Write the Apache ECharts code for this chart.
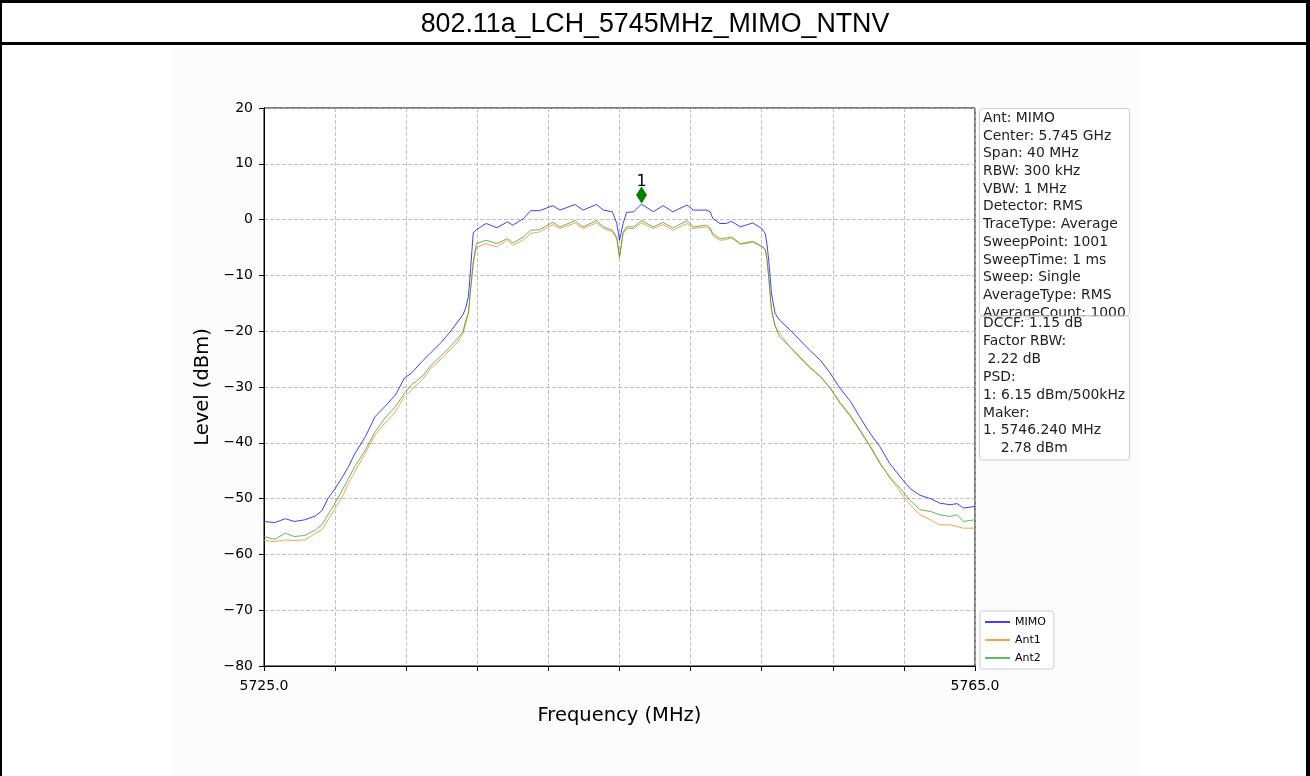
<!DOCTYPE html>
<html>
<head>
<meta charset="utf-8">
<title>802.11a_LCH_5745MHz_MIMO_NTNV</title>
<script src="https://cdn.jsdelivr.net/npm/echarts@6/dist/echarts.min.js"></script>
<style>
  html, body { margin: 0; padding: 0; background: #fff; }
  #chart { width: 1310px; height: 776px; }
</style>
</head>
<body>
<div id="chart"></div>
<script>
// spectrum trace
const freqMHz = [
  5725.0, 5725.6, 5726.2, 5726.7, 5727.3, 5727.9, 5728.25, 5728.6, 5729.0, 5729.4,
  5729.75, 5730.1, 5730.7, 5731.25, 5731.8, 5732.4, 5732.9, 5733.3, 5733.9, 5734.4,
  5735.0, 5735.55, 5735.9, 5736.2, 5736.35, 5736.5, 5736.62, 5736.77, 5736.95, 5737.5,
  5738.1, 5738.7, 5739.0, 5739.6, 5740.0, 5740.5, 5741.25, 5741.65, 5742.5, 5742.95,
  5743.7, 5744.1, 5744.6, 5744.85, 5745.0, 5745.2, 5745.4, 5745.8, 5746.24, 5746.9,
  5747.45, 5748.0, 5748.8, 5749.15, 5749.9, 5750.1, 5750.25, 5750.65, 5751.0, 5751.3,
  5751.8, 5752.5, 5753.0, 5753.2, 5753.3, 5753.4, 5753.55, 5753.75, 5754.0, 5754.6,
  5755.15, 5755.7, 5756.3, 5756.85, 5757.4, 5758.0, 5758.5, 5759.1, 5759.65, 5760.2,
  5760.8, 5761.35, 5761.9, 5762.5, 5763.0, 5763.6, 5764.0, 5764.35, 5765.0
]
const levelMimo = [
  -54.1, -54.3, -53.6, -54.1, -53.8, -53.1, -52.2, -50.0, -48.2, -46.2,
  -44.3, -42.0, -38.9, -35.3, -33.5, -31.4, -28.4, -27.5, -25.4, -23.8,
  -21.9, -19.8, -18.3, -17.0, -15.8, -13.8, -9.0, -2.4, -1.8, -0.7,
  -1.45, -0.4, -1.0, 0.2, 1.6, 1.6, 2.5, 1.7, 2.7, 1.7,
  2.7, 1.7, 1.4, -0.7, -3.7, -0.7, 1.3, 1.4, 2.78, 1.4,
  2.5, 1.4, 2.6, 1.7, 1.7, 1.4, 0.2, -0.7, -0.7, -0.3,
  -1.3, -0.6, -1.6, -2.5, -4.5, -7.5, -13.2, -16.8, -18.0, -19.8,
  -21.6, -23.4, -25.2, -27.5, -30.2, -32.6, -35.3, -38.3, -40.7, -43.7,
  -46.1, -48.2, -49.4, -50.0, -50.8, -51.1, -50.9, -51.7, -51.4
]
const levelAnt1 = [
  -57.5, -57.7, -57.4, -57.5, -57.4, -56.2, -55.6, -53.8, -51.7, -49.7,
  -47.3, -45.2, -41.9, -38.6, -36.5, -34.4, -31.7, -30.5, -28.7, -26.6,
  -24.9, -23.1, -21.9, -20.4, -18.6, -16.8, -12.6, -8.0, -5.0, -4.3,
  -4.9, -3.7, -4.6, -3.6, -2.5, -2.2, -0.9, -1.6, -0.6, -1.6,
  -0.6, -1.6, -2.2, -3.5, -6.9, -2.6, -1.6, -1.6, -0.6, -1.6,
  -0.9, -1.9, -0.7, -1.6, -1.3, -1.8, -2.9, -3.7, -3.6, -3.3,
  -4.4, -4.1, -4.9, -5.4, -7.2, -10.5, -16.2, -19.2, -20.3, -22.9,
  -24.8, -26.6, -28.1, -30.2, -32.7, -35.1, -37.5, -40.5, -43.5, -46.3,
  -48.8, -51.1, -52.9, -53.8, -54.7, -54.7, -55.0, -55.3, -55.3
]
const levelAnt2 = [
  -56.8, -57.3, -56.2, -56.8, -56.6, -55.6, -54.7, -52.9, -50.8, -48.5,
  -46.4, -44.3, -41.3, -38.0, -35.6, -33.5, -31.1, -29.6, -28.1, -26.1,
  -24.3, -22.5, -21.3, -20.0, -18.0, -16.8, -12.6, -7.6, -4.3, -3.7,
  -4.3, -3.4, -4.2, -3.1, -1.9, -1.8, -0.5, -1.3, -0.2, -1.3,
  -0.2, -1.3, -1.9, -3.2, -6.6, -2.3, -1.3, -1.3, -0.2, -1.3,
  -0.5, -1.5, -0.2, -1.3, -1.0, -1.5, -2.5, -3.4, -3.3, -3.1,
  -4.3, -3.9, -4.7, -5.3, -7.2, -10.5, -16.2, -18.9, -21.0, -22.8,
  -24.6, -26.4, -28.1, -30.2, -32.9, -35.3, -37.7, -40.7, -43.7, -46.1,
  -48.2, -50.3, -52.0, -52.3, -52.9, -53.2, -52.9, -54.1, -53.8
]
const seriesNames = ['MIMO', 'Ant1', 'Ant2']
const seriesColors = ['#0000ff', '#ff7f0e', '#2ca02c']
const markerFreq = 5746.24
const markerLevel = 2.78
const startFreq = 5725
const stopFreq = 5765
const yTicks = [-80, -70, -60, -50, -40, -30, -20, -10, 0, 10, 20]

const infoLines = [
  'Ant: MIMO', 'Center: 5.745 GHz', 'Span: 40 MHz', 'RBW: 300 kHz', 'VBW: 1 MHz',
  'Detector: RMS', 'TraceType: Average', 'SweepPoint: 1001', 'SweepTime: 1 ms',
  'Sweep: Single', 'AverageType: RMS', 'AverageCount: 1000'
]
const resultLines = [
  'DCCF: 1.15 dB', 'Factor RBW:', ' 2.22 dB', 'PSD:', '1: 6.15 dBm/500kHz',
  'Maker:', '1. 5746.240 MHz', '    2.78 dBm'
]

const FONT = '"DejaVu Sans", sans-serif'
const minus = v => (v < 0 ? '\u2212' + Math.abs(v) : String(v))

// x axis runs as offset from start so ticks fall on 5725, 5729, ...
const toXY = levels => freqMHz.map((f, i) => [f - startFreq, levels[i]])
const traces = [levelMimo, levelAnt1, levelAnt2]

const chart = echarts.init(document.getElementById('chart'))

chart.setOption({
  animation: false,
  backgroundColor: '#fff',
  title: {
    text: '802.11a_LCH_5745MHz_MIMO_NTNV',
    left: 'center',
    top: 6,
    textStyle: { fontFamily: '"Liberation Sans", Arial, sans-serif', fontSize: 26.8, fontWeight: 'normal', color: '#000' },
  },
  grid: {
    left: 264,
    top: 108,
    width: 711,
    height: 558,
    show: true,
    backgroundColor: '#fff',
    borderColor: '#000',
    borderWidth: 1,
  },
  legend: {
    data: seriesNames,
    orient: 'vertical',
    left: 980,
    top: 611,
    padding: [5, 8, 5, 5],
    icon: 'rect',
    itemWidth: 25,
    itemHeight: 1.5,
    itemGap: 6,
    backgroundColor: '#fff',
    borderColor: '#cccccc',
    borderWidth: 1,
    borderRadius: 3,
    textStyle: { fontFamily: FONT, fontSize: 11, color: '#000', lineHeight: 12 },
  },
  xAxis: {
    type: 'value',
    min: 0,
    max: stopFreq - startFreq,
    interval: 4,
    name: 'Frequency (MHz)',
    nameLocation: 'middle',
    nameGap: 40,
    nameTextStyle: { fontFamily: FONT, fontSize: 19.5, color: '#000' },
    axisLine: { show: true, onZero: false, lineStyle: { color: '#000', width: 1 } },
    axisTick: { show: true, length: 5, lineStyle: { color: '#000' } },
    axisLabel: {
      fontFamily: FONT,
      fontSize: 14,
      color: '#000',
      margin: 13,
      formatter: v => (v === 0 || v === stopFreq - startFreq ? (startFreq + v).toFixed(1) : ''),
    },
    splitLine: { show: true, lineStyle: { color: '#b0b0b0', type: [4, 2], width: 0.8 } },
  },
  yAxis: {
    type: 'value',
    min: yTicks[0],
    max: yTicks[yTicks.length - 1],
    interval: 10,
    name: 'Level (dBm)',
    nameLocation: 'middle',
    nameGap: 50,
    nameTextStyle: { fontFamily: FONT, fontSize: 19.5, color: '#000' },
    axisLine: { show: true, lineStyle: { color: '#000', width: 1 } },
    axisTick: { show: true, length: 5, lineStyle: { color: '#000' } },
    axisLabel: { fontFamily: FONT, fontSize: 14, color: '#000', margin: 11, formatter: minus },
    splitLine: { show: true, lineStyle: { color: '#b0b0b0', type: [4, 2], width: 0.8 } },
  },
  series: [
    ...traces.map((lv, i) => ({
      name: seriesNames[i],
      type: 'line',
      data: toXY(lv),
      symbol: 'none',
      color: seriesColors[i],
      lineStyle: { width: 1, opacity: 0.75 },
      z: 2 + i,
    })),
    {
      name: 'marker',
      type: 'scatter',
      data: [[markerFreq - startFreq, markerLevel]],
      symbol: 'diamond',
      symbolSize: [11, 17],
      symbolOffset: [0, -9],
      itemStyle: { color: '#008000', opacity: 1 },
      label: {
        show: true,
        position: 'top',
        distance: 2,
        offset: [0, 5],
        formatter: '1',
        fontFamily: FONT,
        fontSize: 16,
        color: '#000',
      },
      z: 10,
    },
  ],
  graphic: [
    // figure area and the outer table frame
    { type: 'rect', z: -10, silent: true, shape: { x: 172, y: 48, width: 968, height: 728 }, style: { fill: '#fcfcfc' } },
    { type: 'rect', z: 50, silent: true, shape: { x: 0, y: 0, width: 1310, height: 3 }, style: { fill: '#000' } },
    { type: 'rect', z: 50, silent: true, shape: { x: 0, y: 42, width: 1310, height: 3 }, style: { fill: '#000' } },
    { type: 'rect', z: 50, silent: true, shape: { x: 0, y: 0, width: 2, height: 776 }, style: { fill: '#000' } },
    { type: 'rect', z: 50, silent: true, shape: { x: 1306, y: 0, width: 4, height: 776 }, style: { fill: '#000' } },
    // setting box
    {
      type: 'rect', z: 20, silent: true,
      shape: { x: 979.5, y: 108.5, width: 150, height: 207, r: 3 },
      style: { fill: 'rgba(255,255,255,0.85)', stroke: '#cccccc', lineWidth: 1 },
    },
    {
      type: 'text', z: 21, silent: true, x: 983, y: 109.5,
      style: { text: infoLines.join('\n'), font: '13.9px ' + FONT, fill: '#222', lineHeight: 17.7 },
    },
    // result box
    {
      type: 'rect', z: 22, silent: true,
      shape: { x: 979.5, y: 316, width: 150, height: 144, r: 3 },
      style: { fill: 'rgba(255,255,255,0.8)', stroke: '#cccccc', lineWidth: 1 },
    },
    {
      type: 'text', z: 23, silent: true, x: 983, y: 314.5,
      style: { text: resultLines.join('\n'), font: '13.9px ' + FONT, fill: '#222', lineHeight: 17.9 },
    },
  ],
})
</script>
</body>
</html>
